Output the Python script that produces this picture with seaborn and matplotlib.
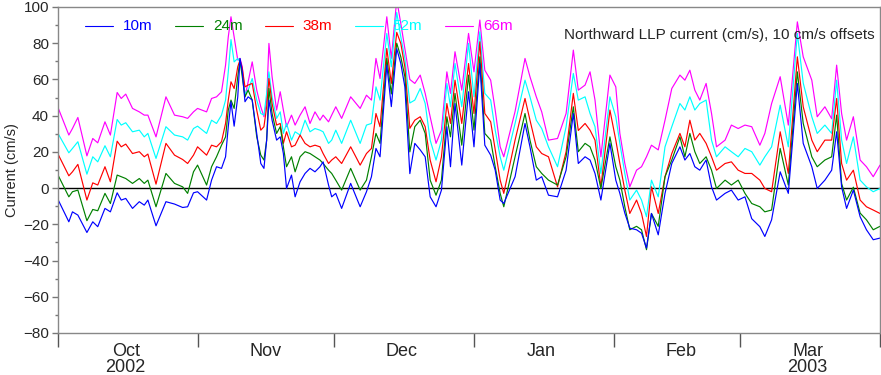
import numpy as np
import pandas as pd
import matplotlib.pyplot as plt
import matplotlib.dates as mdates
from matplotlib.lines import Line2D
import seaborn as sns

# -------------------------
# Data (values already include the 10 cm/s offsets)
# days counted from 2002-10-01
# -------------------------
days = [
    # Oct
    0, 2.4, 3.2, 4.4, 6.4, 7.7, 8.8, 10.4, 11.6, 13.1, 14, 15, 16.5, 18, 19.1, 19.9,
    21.7, 23.9, 25.8, 27.6, 28.7, 30, 30.9,
    # Nov
    32.9, 34.0, 35.1, 36.2, 37.1, 37.7, 38.3, 39.0, 39.8, 40.3, 40.8, 41.4, 42.1, 43.0,
    44.0, 44.9, 45.6, 46.2, 46.7, 47.4, 48.4, 49.2, 49.9, 50.6, 51.7, 52.5, 53.6, 54.7,
    55.8, 56.9, 58.0, 58.7, 59.9, 60.6,
    # Dec
    61.5, 62.8, 64.8, 66.9, 68.3, 69.4, 70.4, 71.3, 72.8, 73.8, 75.0, 75.9, 76.8, 77.9,
    79.0, 80.2, 81.3, 82.4, 83.7, 84.9, 86.1, 86.9, 87.9, 89.4, 90.9, 92.1,
    # Jan
    93.4, 94.5, 95.8, 96.8, 97.9, 98.7, 101.2, 103.4, 104.5, 105.9, 107.1, 108.6, 110.6,
    112.5, 114.1, 115.2, 116.7, 117.8, 118.9, 120.2, 122.2, 123.5,
    # Feb
    124.4, 125.5, 126.6, 128.1, 129.2, 130.3, 131.4, 132.9, 134.4, 135.9, 137.7, 138.8,
    139.9, 141.0, 142.1, 143.5, 144.7, 145.8, 147.7, 149.1, 150.6, 152.1,
    # Mar
    153.6, 155.4, 156.5, 158.0, 159.9, 161.7, 163.7, 165.0, 166.9, 168.1, 169.8, 171.3,
    172.4, 173.5, 174.6, 176.1, 177.6, 179.0, 180.5, 182.0,
]

v10m = [
    -6.3, -18.6, -13.1, -14.9, -24.5, -18.6, -21.3, -11.2, -13.1, -2.6, -6.6, -5.7, -11.2, -7.5, -9.4, -6.6,
    -20.8, -7.5, -8.8, -10.7, -10.3, -2.6, -2.0,
    -6.6, 4.4, 11.8, 10.9, 17.3, 33.9, 47.7, 34.2, 50.4, 71.6, 64.2, 47.7, 50.4, 48.6,
    30.2, 13.6, 10.9, 26.5, 48.6, 37.5, 26.5, 28.3, 19.1, -0.2, 7.2, -4.8, 3.5, 8.1,
    10.9, 9.0, 11.8, 14.5, 1.7, -4.8,
    -2.9, -11.2, 2.6, -10.3, -2.0, 6.3, 21.9, 17.3, 68.0, 45.0, 77.0, 68.8, 55.9, 8.0,
    24.7, 21.1, 17.3, -4.8, -10.3, -1.1, 33.9, 11.8, 46.7, 12.7, 53.2, 22.8,
    68.8, 23.7, 18.2, 9.9, -6.6, -8.5, 6.3, 35.7, 22.8, 4.4, 6.3, -3.9, -4.8,
    9.9, 41.2, 13.6, 17.3, 15.5, 8.1, -6.6, 24.7, 4.4,
    -2.9, -13.8, -22.1, -23.0, -24.9, -33.1, -14.0, -25.8, -2.9, 13.6, 22.8, 15.5,
    19.1, 11.8, 9.9, 15.5, 0.7, -6.6, -2.9, -1.1, -6.6, -4.8,
    -16.9, -21.3, -26.7, -17.5, 9.0, -2.9, 57.8, 24.7, 11.8, -0.2, 4.4, 9.9,
    31.1, 0.7, -11.2, -1.1, -15.8, -23.0, -28.5, -27.6,
]

v24m = [
    7.2, -4.8, -2.0, -1.1, -18.0, -11.8, -12.5, -2.9, -8.5, 7.2, 6.3, 5.3, 2.6, 5.3, 2.6, 4.4,
    -10.3, 8.1, 2.6, 0.7, -2.9, 9.0, 12.7,
    1.7, 11.8, 17.3, 23.7, 28.3, 43.1, 48.6, 44.0, 61.5, 70.7, 61.5, 50.4, 54.1, 48.6,
    28.3, 18.2, 15.5, 26.5, 55.0, 41.2, 30.2, 33.9, 22.8, 11.8, 17.3, 9.0, 17.3, 20.1,
    19.1, 17.3, 15.5, 13.6, 9.9, 8.1,
    4.4, -1.1, 10.9, -1.1, 4.4, 17.3, 30.2, 24.7, 71.6, 52.0, 80.0, 72.5, 61.5, 20.0,
    33.9, 37.5, 30.2, 4.4, -3.9, 4.4, 39.4, 28.3, 52.3, 23.7, 62.4, 32.0,
    72.5, 30.2, 26.5, 11.8, -2.9, -10.3, 17.3, 41.2, 26.5, 11.8, 8.1, 4.4, 1.7,
    17.3, 44.9, 20.1, 24.7, 22.8, 15.5, -0.2, 28.3, 11.8,
    4.4, -10.3, -23.0, -21.1, -23.0, -34.0, -14.0, -21.1, 6.3, 15.5, 28.3, 17.3,
    30.2, 20.1, 13.6, 17.3, 9.9, -0.2, 4.4, 1.7, 4.4, -2.9,
    -8.5, -10.3, -13.1, -12.1, 21.9, 1.7, 64.2, 35.7, 17.3, 11.8, 15.5, 17.3,
    40.3, 2.6, -6.6, 0.5, -13.8, -17.5, -23.0, -21.1,
]

v38m = [
    18.8, 6.8, 9.0, 13.1, -6.6, 2.9, 1.7, 11.8, 3.5, 25.9, 22.8, 24.3, 19.1, 20.1, 17.3, 18.8,
    2.2, 24.7, 18.2, 15.8, 13.6, 18.2, 22.8,
    18.2, 23.7, 22.8, 25.6, 35.7, 48.6, 58.7, 55.0, 67.0, 70.7, 66.1, 55.9, 56.9, 57.8,
    43.1, 32.0, 33.9, 44.9, 60.5, 46.7, 34.8, 35.7, 24.7, 31.1, 22.8, 23.7, 29.3, 24.7,
    22.8, 23.7, 22.8, 19.1, 13.6, 15.5,
    17.3, 13.6, 22.8, 12.7, 19.1, 21.9, 41.2, 33.9, 77.1, 57.8, 86.0, 79.9, 66.9, 33.0,
    37.5, 39.4, 33.9, 15.5, 3.5, 17.3, 46.7, 35.7, 59.6, 35.7, 68.8, 41.2,
    80.8, 41.2, 36.6, 21.1, 4.4, -2.9, 26.5, 49.5, 37.5, 22.8, 19.1, 17.3, 0.7,
    20.1, 52.3, 31.8, 35.7, 32.0, 26.5, 0.7, 43.1, 26.5,
    13.6, -1.1, -14.0, -6.6, -14.0, -26.7, 0.7, -14.0, 6.3, 19.1, 30.2, 22.8,
    37.5, 26.5, 30.2, 24.7, 17.3, 9.9, 13.6, 14.5, 9.9, 8.1,
    8.1, 4.4, -0.2, -2.0, 31.1, 8.1, 72.5, 44.9, 26.5, 20.1, 26.5, 26.5,
    49.5, 13.6, 4.4, 9.9, -6.6, -10.3, -12.1, -14.0,
]

v52m = [
    30.2, 19.5, 21.9, 25.6, 7.7, 17.3, 14.5, 23.4, 17.3, 37.9, 34.8, 36.1, 31.1, 32.0, 28.3, 30.2,
    16.4, 33.9, 29.3, 28.3, 26.5, 32.9, 34.2,
    30.2, 37.5, 35.7, 40.3, 48.6, 64.2, 82.0, 69.7, 71.6, 69.7, 64.2, 52.0, 54.1, 60.5,
    48.6, 41.2, 40.3, 52.3, 64.2, 50.4, 38.5, 42.1, 30.2, 35.7, 26.5, 31.1, 29.3, 37.5,
    31.1, 32.9, 32.0, 31.1, 24.7, 26.5,
    32.0, 24.7, 37.5, 24.7, 34.8, 35.7, 55.9, 48.6, 85.4, 67.0, 97.0, 83.5, 71.6, 47.0,
    48.6, 55.0, 46.7, 26.5, 15.5, 26.5, 57.8, 44.9, 68.8, 44.9, 79.9, 50.4,
    86.3, 52.3, 48.6, 32.0, 17.3, 9.9, 35.7, 59.6, 50.4, 37.5, 32.9, 22.8, 11.8,
    33.9, 63.3, 48.6, 50.4, 41.2, 33.9, 8.1, 50.4, 39.4,
    24.7, 8.1, -6.6, -1.1, -6.6, -15.8, 4.4, -4.8, 22.8, 33.9, 46.7, 43.1,
    50.4, 43.1, 46.7, 48.6, 26.5, 17.3, 22.8, 20.1, 17.3, 21.9,
    20.1, 12.7, 17.3, 22.8, 45.8, 22.8, 85.4, 58.0, 39.4, 30.2, 34.8, 30.2,
    59.6, 26.5, 13.6, 28.3, 4.4, 0.7, -2.0, -0.2,
]

v66m = [
    44.5, 29.3, 32.9, 39.0, 17.8, 27.4, 25.0, 36.6, 29.3, 52.8, 49.5, 51.9, 44.0, 42.1, 40.3, 40.3,
    28.3, 50.4, 40.3, 39.4, 38.5, 42.1, 44.0,
    42.1, 49.5, 50.4, 53.2, 67.9, 83.5, 94.6, 83.5, 70.7, 71.6, 67.0, 50.4, 58.7, 69.7,
    54.1, 44.9, 39.4, 48.6, 79.9, 61.5, 43.1, 53.2, 43.1, 33.9, 40.3, 34.8, 40.3, 44.9,
    35.7, 42.1, 37.5, 40.3, 36.6, 40.3,
    44.9, 38.5, 50.4, 44.0, 51.3, 48.6, 71.6, 60.5, 94.6, 71.6, 104.0, 90.9, 77.1, 60.0,
    57.8, 62.4, 52.3, 39.4, 24.7, 32.0, 64.2, 52.3, 75.3, 54.1, 85.4, 64.2,
    92.8, 65.1, 59.6, 43.1, 22.8, 17.3, 42.3, 71.6, 61.5, 50.4, 42.1, 26.5, 27.4,
    41.2, 76.2, 54.1, 56.9, 64.2, 48.6, 17.3, 62.4, 55.9,
    30.2, 13.6, 0.7, 9.9, 11.8, 17.3, 23.7, 21.1, 37.5, 55.0, 62.4, 59.6,
    65.1, 54.1, 48.6, 57.8, 41.2, 22.8, 26.5, 34.8, 32.9, 34.8,
    33.9, 23.7, 30.2, 46.7, 61.5, 34.8, 91.8, 72.5, 59.6, 39.4, 44.9, 38.3,
    67.9, 41.2, 26.5, 39.4, 15.5, 11.8, 6.3, 12.7,
]

depths = ['10m', '24m', '38m', '52m', '66m']
colors = ['#0000ff', '#008000', '#ff0000', '#00ffff', '#ff00ff']
month_labels = ['Oct\n2002', 'Nov', 'Dec', 'Jan', 'Feb', 'Mar\n2003']

# -------------------------
# Build long table
# -------------------------
start = pd.Timestamp('2002-10-01')
time = start + pd.to_timedelta(days, unit='D')
wide = pd.DataFrame({'time': time, '10m': v10m, '24m': v24m, '38m': v38m,
                     '52m': v52m, '66m': v66m})
df = wide.melt(id_vars='time', var_name='depth', value_name='current')

# -------------------------
# Plot
# -------------------------
sns.set_style('white')
plt.rcParams['font.family'] = ['Liberation Sans', 'DejaVu Sans']

fig = plt.figure(figsize=(8.81, 3.75), dpi=100)
ax = fig.add_axes([58 / 881, 1 - 333 / 375, 822 / 881, 326 / 375])

ax.axhline(0, color='black', lw=1, zorder=1)
sns.lineplot(data=df, x='time', y='current', hue='depth', hue_order=depths[::-1],
             palette=dict(zip(depths, colors)), linewidth=0.85, estimator=None,
             legend=False, ax=ax)

ax.set_xlim(start, pd.Timestamp('2003-04-01'))
ax.set_ylim(-80, 100)
ax.set_xlabel('')
ax.set_ylabel('Current (cm/s)', fontsize=10.5)
ax.yaxis.set_label_coords(-0.047, 0.5)

# month boundaries as long ticks, names centred in each month
month_starts = pd.date_range('2002-10-01', '2003-04-01', freq='MS')
mids = month_starts[:-1] + pd.Timedelta(days=15)
ax.set_xticks(mdates.date2num(month_starts))
ax.set_xticklabels([])
ax.set_xticks(mdates.date2num(mids), minor=True)
ax.set_xticklabels(month_labels, minor=True, linespacing=0.95)
ax.tick_params(axis='x', which='major', direction='out', length=10, width=1,
               color='#555555', bottom=True)
ax.tick_params(axis='x', which='minor', length=0, pad=7, labelsize=13)

ax.set_yticks(np.arange(-80, 101, 20))
ax.set_yticks(np.arange(-80, 101, 10), minor=True)
ax.tick_params(axis='y', which='major', direction='out', length=4.5, width=1,
               color='#777777', labelsize=11, pad=2, left=True)
ax.tick_params(axis='y', which='minor', direction='out', length=2.5, width=1,
               color='#777777', left=True)

for s in ax.spines.values():
    s.set_color('#888888')
    s.set_linewidth(1)

# legend: short line + coloured label
for i, (d, c) in enumerate(zip(depths, colors)):
    x0 = 0.0328 + i * 0.1095
    ax.add_line(Line2D([x0, x0 + 0.034], [0.943, 0.943], transform=ax.transAxes,
                       color=c, lw=0.8))
    ax.text(x0 + 0.046, 0.943, d, color=c, fontsize=11, va='center',
            transform=ax.transAxes)

ax.text(0.994, 0.914, 'Northward LLP current (cm/s), 10 cm/s offsets', fontsize=11,
        ha='right', va='center', transform=ax.transAxes)

fig.savefig('out.png', dpi=100)
